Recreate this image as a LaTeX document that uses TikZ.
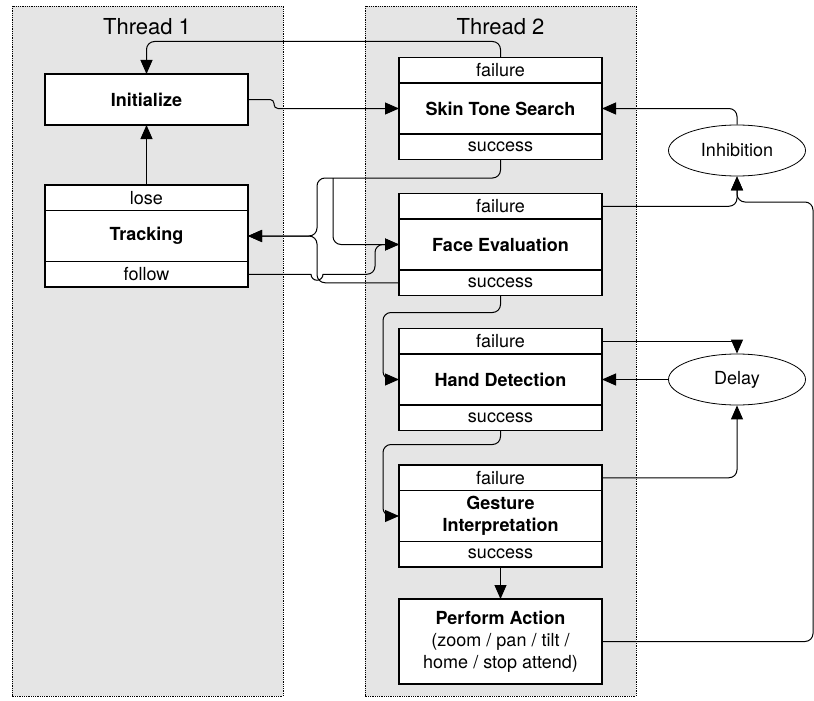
\documentclass[tikz,border=0pt]{standalone}
\usepackage{fontspec}
\setmainfont{TeX Gyre Heros}
\usepackage{tikz}
\usetikzlibrary{shapes}
\usetikzlibrary{arrows.meta}
\usetikzlibrary{positioning}

\newcommand{\boxfont}{\fontsize{18}{22}\selectfont}
\newcommand{\titlefont}{\fontsize{22}{26}\selectfont}

\tikzset{
    panel/.style = {draw, densely dotted, fill = gray!20, line width = 0.8pt},
    body/.style = {draw, fill = white, line width = 1.3pt, minimum width = 203pt,
        minimum height = 51pt, inner sep = 0pt, outer sep = 0pt, align = center,
        font = \boxfont\bfseries},
    row/.style = {draw, fill = white, line width = 1.3pt, minimum width = 203pt,
        minimum height = 25.5pt, inner sep = 0pt, outer sep = 0pt, font = \boxfont},
    blob/.style = {draw, ellipse, fill = white, line width = 0.8pt, minimum width = 137pt,
        minimum height = 51pt, inner sep = 0pt, font = \boxfont},
    arr/.style = {line width = 1pt, rounded corners = 8pt,
        -{Triangle[length = 14pt, width = 12pt]}}
}

\begin{document}
\begin{tikzpicture}[x = 1pt, y = -1pt]
        \useasboundingbox (0, 0) rectangle (814, 701);

        % the two threads
        \filldraw[panel] (12, 6) rectangle (283, 696);
        \filldraw[panel] (365, 6) rectangle (636, 696);
        \node[font = \titlefont] (t1) at (147, 27) {Thread 1};
        \node[font = \titlefont] (t2) at (500.5, 27) {Thread 2};

        \node[body] (init) at (146.5, 99.5) {Initialize};

        \node[body] (trackB) at (146.5, 236) {Tracking};
        \node[row, above = 0pt of trackB] (trackL) {lose};
        \node[row, below = 0pt of trackB] (trackF) {follow};

        \node[body] (skin) at (500.5, 108.5) {Skin Tone Search};
        \node[row, above = 0pt of skin] (skinF) {failure};
        \node[row, below = 0pt of skin] (skinS) {success};

        \node[body] (face) at (500.5, 244.5) {Face Evaluation};
        \node[row, above = 0pt of face] (faceF) {failure};
        \node[row, below = 0pt of face] (faceS) {success};

        \node[body] (hand) at (500.5, 379.5) {Hand Detection};
        \node[row, above = 0pt of hand] (handF) {failure};
        \node[row, below = 0pt of hand] (handS) {success};

        \node[body] (gest) at (500.5, 516) {Gesture\\Interpretation};
        \node[row, above = 0pt of gest] (gestF) {failure};
        \node[row, below = 0pt of gest] (gestS) {success};

        \node[body, minimum height = 85pt, font = \boxfont] (perf) at (500.5, 641.5)
            {\textbf{Perform Action}\\(zoom / pan / tilt /\\home / stop attend)};

        \node[blob] (inhib) at (737, 150.5) {Inhibition};
        \node[blob] (delay) at (737, 379.5) {Delay};

        \coordinate (fork) at (333, 178);
        \coordinate (brace) at (317, 236);
        \coordinate (ret) at (813, 202);

        % connectors
        \draw[arr] (skinF.north) -- ++(0, -16) -| (init.north);
        \draw[arr, rounded corners = 4pt] (init.east) -- ++(26, 0) |- (skin.west);
        \draw[arr] (trackL.north) -- (init.south);

        \draw[arr] (skinS.south) |- (fork) -| (brace) -- (trackB.east);
        \draw[arr] (faceS.west) -| (brace) -- (trackB.east);
        \draw[arr] (fork) |- (face.west);
        \draw[arr] (trackF.east) [sharp corners] -- ++(63, 0)
            arc[start angle = 180, end angle = 0, radius = 6]
            [rounded corners = 8pt] -- ++(52, 0) |- (face.west);

        \draw[arr] (faceS.south) -- ++(0, 17) -| ([xshift = -16pt]hand.west)
            [sharp corners] -- (hand.west);
        \draw[arr] (handS.south) -- ++(0, 14) -| ([xshift = -16pt]gest.west)
            [sharp corners] -- (gest.west);
        \draw[arr] (gestS.south) -- (perf.north);

        \draw[arr] (inhib.north) |- (skin.east);
        \draw[arr] (faceF.east) -| (inhib.south);
        \draw[arr] (perf.east) -| (ret) -| (inhib.south);

        \draw[arr, sharp corners] (handF.east) -| (delay.north);
        \draw[arr] (delay.west) -- (hand.east);
        \draw[arr] (gestF.east) -| (delay.south);
    \end{tikzpicture}
\end{document}
